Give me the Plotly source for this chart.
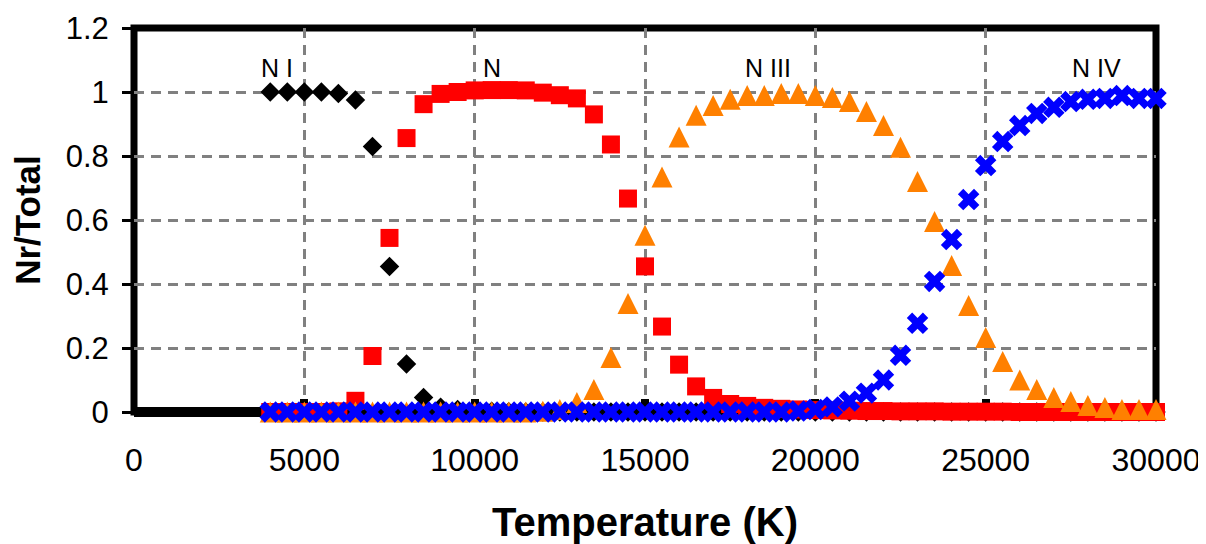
import plotly.graph_objects as go

# Temperature grid (K)
temperature = [4000, 4500, 5000, 5500, 6000, 6500, 7000, 7500, 8000, 8500,
               9000, 9500, 10000, 10500, 11000, 11500, 12000, 12500, 13000, 13500,
               14000, 14500, 15000, 15500, 16000, 16500, 17000, 17500, 18000, 18500,
               19000, 19500, 20000, 20500, 21000, 21500, 22000, 22500, 23000, 23500,
               24000, 24500, 25000, 25500, 26000, 26500, 27000, 27500, 28000, 28500,
               29000, 29500, 30000]

n_i = [1.0, 1.0, 1.0, 1.0, 0.995, 0.975, 0.83, 0.455, 0.15, 0.045,
       0.015, 0.008, 0.004, 0.002, 0.001, 0.0, 0.0, 0.0, 0.0, 0.0,
       0.0, 0.0, 0.0, 0.0, 0.0, 0.0, 0.0, 0.0, 0.0, 0.0,
       0.0, 0.0, 0.0, 0.0, 0.0, 0.0, 0.0, 0.0, 0.0, 0.0,
       0.0, 0.0, 0.0, 0.0, 0.0, 0.0, 0.0, 0.0, 0.0, 0.0,
       0.0, 0.0, 0.0]

n_ii = [0.0, 0.0, 0.0, 0.0, 0.002, 0.035, 0.175, 0.544, 0.856, 0.962,
        0.994, 1.0, 1.005, 1.006, 1.006, 1.005, 0.998, 0.99, 0.98, 0.93,
        0.836, 0.667, 0.455, 0.267, 0.148, 0.08, 0.044, 0.025, 0.019, 0.013,
        0.01, 0.008, 0.006, 0.005, 0.004, 0.003, 0.003, 0.002, 0.002, 0.002,
        0.001, 0.001, 0.001, 0.001, 0.0, 0.0, 0.0, 0.0, 0.0, 0.0,
        0.0, 0.0, 0.0]

n_iii = [0.0, 0.0, 0.0, 0.0, 0.0, 0.0, 0.0, 0.0, 0.0, 0.0,
         0.0, 0.0, 0.0, 0.0, 0.0, 0.0, 0.002, 0.008, 0.03, 0.07,
         0.17, 0.339, 0.552, 0.734, 0.859, 0.927, 0.958, 0.977, 0.989, 0.989,
         0.995, 0.995, 0.989, 0.983, 0.97, 0.939, 0.895, 0.827, 0.72, 0.595,
         0.458, 0.333, 0.233, 0.158, 0.10, 0.07, 0.045, 0.033, 0.02, 0.014,
         0.008, 0.008, 0.008]

n_iv = [0.0, 0.0, 0.0, 0.0, 0.0, 0.0, 0.0, 0.0, 0.0, 0.0,
        0.0, 0.0, 0.0, 0.0, 0.0, 0.0, 0.0, 0.0, 0.0, 0.0,
        0.0, 0.0, 0.0, 0.0, 0.0, 0.0, 0.0, 0.0, 0.0, 0.0,
        0.0, 0.003, 0.008, 0.016, 0.034, 0.059, 0.10, 0.177, 0.277, 0.408,
        0.539, 0.664, 0.77, 0.845, 0.895, 0.933, 0.952, 0.97, 0.977, 0.98,
        0.989, 0.98, 0.98]

series_names = ["N I", "N II", "N III", "N IV"]
label_text = ["N I", "N", "N III", "N IV"]
label_x = [4200, 10500, 18600, 28250]
label_y = [1.075, 1.075, 1.075, 1.075]

x_ticks = [0, 5000, 10000, 15000, 20000, 25000, 30000]
y_ticks = [0, 0.2, 0.4, 0.6, 0.8, 1.0, 1.2]

FONT = "Liberation Sans, Arial, sans-serif"
TRI = 21

fig = go.Figure()
fig.add_trace(go.Scatter(x=temperature, y=n_i, mode="markers", name=series_names[0],
                         cliponaxis=False,
                         marker=dict(symbol="diamond", size=15, color="#000000")))
fig.add_trace(go.Scatter(x=temperature, y=n_ii, mode="markers", name=series_names[1],
                         cliponaxis=False,
                         marker=dict(symbol="square", size=18, color="#FF0000")))
# upward triangle centred on the point: arrow-down rotated 180 deg, backed off by r
fig.add_trace(go.Scatter(x=temperature, y=n_iii, mode="markers", name=series_names[2],
                         cliponaxis=False,
                         marker=dict(symbol="arrow-down", angle=180, size=TRI,
                                     standoff=TRI / 2, color="#FF8000")))
fig.add_trace(go.Scatter(x=temperature, y=n_iv, mode="markers", name=series_names[3],
                         cliponaxis=False,
                         marker=dict(symbol="x", size=19, color="#0000FF")))

for t, lx, ly in zip(label_text, label_x, label_y):
    fig.add_annotation(x=lx, y=ly, xref="x", yref="y", text=t, showarrow=False,
                       font=dict(family=FONT, size=25, color="#000000"))

# frame
fig.add_shape(type="rect", xref="paper", yref="paper", x0=0, x1=1, y0=0, y1=1,
              line=dict(color="#000000", width=7), layer="between")
fig.add_shape(type="line", xref="paper", yref="paper", x0=0, x1=1, y0=0, y1=0,
              line=dict(color="#000000", width=10), layer="between")

# page body has an 8px margin, so the figure is sized/offset to compensate
fig.update_layout(
    width=1198, height=536,
    margin=dict(l=126, r=50, t=20, b=132, autoexpand=False),
    paper_bgcolor="#FFFFFF", plot_bgcolor="#FFFFFF",
    showlegend=False,
    font=dict(family=FONT, color="#000000"),
)
fig.update_xaxes(
    range=[0, 30000], tickvals=x_ticks, ticktext=[str(v) for v in x_ticks],
    showgrid=True, gridcolor="#808080", gridwidth=3, griddash="10px,7px",
    zeroline=False, showline=False, automargin=False,
    ticks="inside", ticklen=13, tickwidth=8, tickcolor="#000000",
    tickfont=dict(family=FONT, size=32, color="#000000"),
    ticklabelstandoff=26, layer="below traces",
    title=dict(text="<b>Temperature (K)</b>", standoff=30,
               font=dict(family=FONT, size=40, color="#000000")),
)
fig.update_yaxes(
    range=[0, 1.2], tickvals=y_ticks, ticktext=["0", "0.2", "0.4", "0.6", "0.8", "1", "1.2"],
    showgrid=True, gridcolor="#808080", gridwidth=3, griddash="10px,7px",
    zeroline=False, showline=False, automargin=False,
    ticks="outside", ticklen=11, tickwidth=3, tickcolor="#000000",
    tickfont=dict(family=FONT, size=31, color="#000000"),
    ticklabelstandoff=7, layer="below traces",
    title=dict(text="<b>Nr/Total</b>", standoff=18,
               font=dict(family=FONT, size=35, color="#000000")),
)

fig.write_html("out.html")
